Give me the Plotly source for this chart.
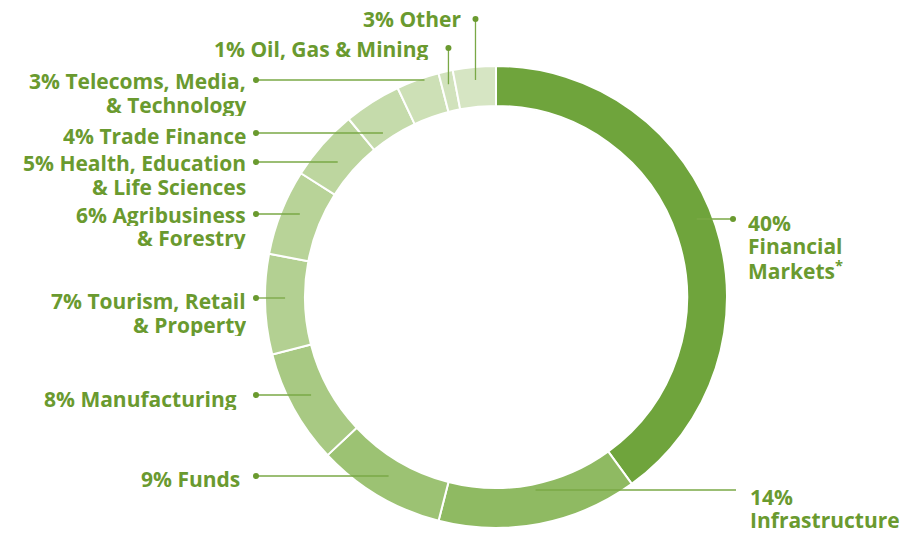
import math
import plotly.graph_objects as go

# ---- data ----
sectors = ["Financial Markets*", "Infrastructure", "Funds", "Manufacturing",
           "Tourism, Retail & Property", "Agribusiness & Forestry",
           "Health, Education & Life Sciences", "Trade Finance",
           "Telecoms, Media, & Technology", "Oil, Gas & Mining", "Other"]
shares = [40, 14, 9, 8, 7, 6, 5, 4, 3, 1, 3]
# display text (line breaks) for each sector
display = ["Financial<br>Markets<sup>*</sup>", "Infrastructure", "Funds", "Manufacturing",
           "Tourism, Retail<br>& Property", "Agribusiness<br>& Forestry",
           "Health, Education<br>& Life Sciences", "Trade Finance",
           "Telecoms, Media,<br>& Technology", "Oil, Gas & Mining", "Other"]

# ---- style ----
colors = ["#6fa43c", "#8fba62", "#9cc273", "#a8c983", "#b3d092", "#b8d398",
          "#bdd69f", "#c5dbab", "#cde0b6", "#d1e2bc", "#d6e5c3"]
TEXT = "#6a9a2f"
LINE = "#7aa846"
OFF = 8                 # page body margin
W, H = 910 - OFF, 533 - OFF
FS = 21
LH = 23.5
# donut placement in screen pixels
PX0, PX1, PY0, PY1 = 265, 727, 66, 528
HOLE = 0.827
# label layout: (kind, line y px, dot x px, text anchor x px, first text line y, sep)
lab = [
    ("right", 219, 733, 746, 221.5, "<br>"),
    ("right_nodot", 490, 736, 748, 495.5, "<br>"),
    ("left", 476, 256, 242, 478, " "),
    ("left", 395, 256, 239, 397.5, " "),
    ("left", 298, 256, 248, 300, " "),
    ("left", 214, 256, 248, 214, " "),
    ("left", 162, 256, 248, 162.5, " "),
    ("left", 133, 256, 248, 135, " "),
    ("left", 80, 256, 248, 80, " "),
    ("top", 48, None, 431, 48.5, " "),
    ("top", 19, None, 463, 18, " "),
]

cx = (PX0 + PX1) / 2
cy = (PY0 + PY1) / 2
R = (PX1 - PX0) / 2
rmid = R * (1 + HOLE) / 2


def px(x):
    return (x - OFF) / W


def py(y):
    return 1 - (y - OFF) / H


fig = go.Figure(go.Pie(
    labels=sectors, values=shares, sort=False, direction="clockwise", rotation=0,
    hole=HOLE, textinfo="none", hoverinfo="label+percent",
    marker=dict(colors=colors, line=dict(color="white", width=2)),
    domain=dict(x=[px(PX0), px(PX1)], y=[py(PY1), py(PY0)]),
))

shapes, annotations = [], []
total = sum(shares)
cum = 0
for i, v in enumerate(shares):
    th = 2 * math.pi * (cum + v / 2) / total
    cum += v
    kind, ly, dx, tx, ty, sep = lab[i]
    mx = cx + rmid * math.sin(th)
    text = f"{v}%{sep}{display[i]}"
    if kind == "top":
        r2 = R - 13
        ex, ey = cx + r2 * math.sin(th), cy - r2 * math.cos(th)
        dx = ex
        shapes.append(dict(type="line", xref="paper", yref="paper",
                           x0=px(dx), y0=py(ly), x1=px(ex), y1=py(ey),
                           line=dict(color=LINE, width=1.3)))
    else:
        shapes.append(dict(type="line", xref="paper", yref="paper",
                           x0=px(dx), y0=py(ly), x1=px(mx), y1=py(ly),
                           line=dict(color=LINE, width=1.3)))
    if kind != "right_nodot":
        shapes.append(dict(type="circle", xref="paper", yref="paper",
                           x0=px(dx - 3), x1=px(dx + 3), y0=py(ly - 3), y1=py(ly + 3),
                           fillcolor=TEXT, line=dict(width=0)))
    anchor = "left" if kind.startswith("right") else "right"
    for k, line in enumerate(text.split("<br>")):
        annotations.append(dict(x=px(tx), y=py(ty + 1 + k * LH), xref="paper", yref="paper",
                                xanchor=anchor, yanchor="middle", align=anchor,
                                valign="middle", height=22,
                                text=line, showarrow=False,
                                font=dict(family="Open Sans", size=FS, color=TEXT, weight="bold")))

fig.update_layout(width=W, height=H, margin=dict(l=0, r=0, t=0, b=0),
                  paper_bgcolor="white", plot_bgcolor="white", showlegend=False,
                  shapes=shapes, annotations=annotations)
fig.write_html("out.html")
